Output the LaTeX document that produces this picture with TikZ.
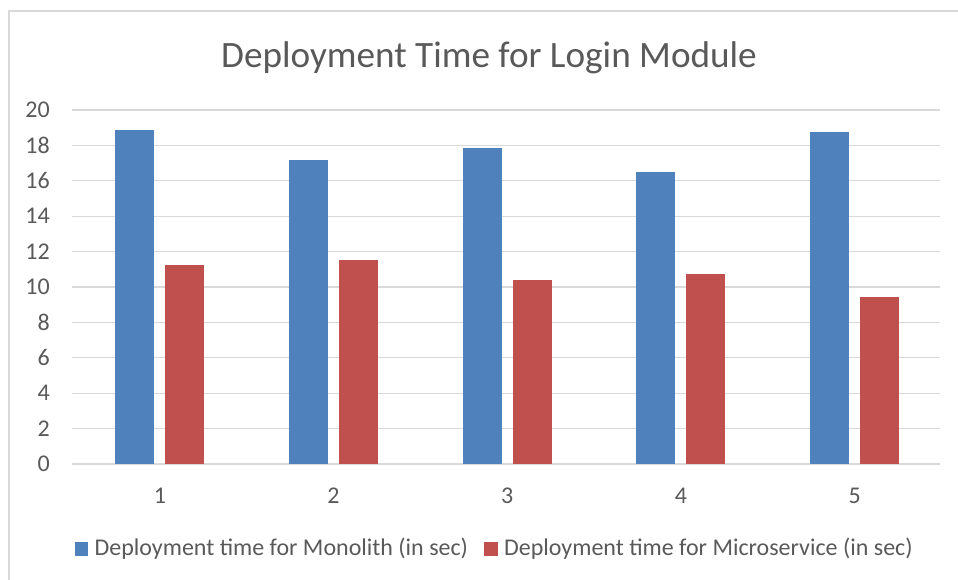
\documentclass[tikz,border=0pt]{standalone}
\usepackage{fontspec}
\setmainfont{Carlito}
\usepackage{tikz}
\usetikzlibrary{positioning}
\definecolor{monoblue}{HTML}{4F81BD}
\definecolor{microred}{HTML}{C0504D}
\definecolor{gridgray}{HTML}{D9D9D9}
\definecolor{labelgray}{HTML}{595959}
\tikzset{
  gridline/.style = {draw=gridgray, line width=1.3pt},
  ticklabel/.style = {text=labelgray, inner sep=0pt, font=\fontsize{24}{28}\selectfont},
  monobar/.style = {fill=monoblue},
  microbar/.style = {fill=microred},
  legendkey/.style = {minimum width=13.5pt, minimum height=14pt, inner sep=0pt},
}

\begin{document}
\begin{tikzpicture}[x=1pt, y=-1pt]
    \useasboundingbox (0,0) rectangle (958,580);
    % chart frame
    \draw [gridgray, line width=1.5pt] (9,585) -- (9,11) -- (965,11);

    % Title
    \node [anchor=base, text=labelgray, inner sep=0pt, font=\fontsize{37.2}{44}\selectfont] (title) at (489,68) {Deployment Time for Login Module};

    % Grid and y labels
    \foreach \v in {0,2,...,20} {
        \draw [gridline] (72,464-17.7*\v) -- (940,464-17.7*\v);
        \node [ticklabel, anchor=east] (ytick\v) at (50,464-17.7*\v) {\v};
    }

    % Bars
    \foreach \i/\mono/\micro in {1/18.87/11.24, 2/17.2/11.53, 3/17.85/10.41, 4/16.51/10.73, 5/18.76/9.42} {
        \pgfmathsetmacro{\cx}{73+173.7*(\i-0.5)}
        \fill [monobar] (\cx-44.5,464) rectangle (\cx-5.5,464-17.7*\mono);
        \fill [microbar] (\cx+5.5,464) rectangle (\cx+44.5,464-17.7*\micro);
        \node [ticklabel] (xtick\i) at (\cx,496) {\i};
    }

    % Legend
    \node [legendkey, fill=monoblue] (keymono) at (81.5,549) {};
    \node [ticklabel, anchor=west, right=6pt of keymono] (legmono) {Deployment time for Monolith (in sec)};
    \node [legendkey, fill=microred] (keymicro) at (491,549) {};
    \node [ticklabel, anchor=west, right=6pt of keymicro] (legmicro) {Deployment time for Microservice (in sec)};
\end{tikzpicture}
\end{document}
